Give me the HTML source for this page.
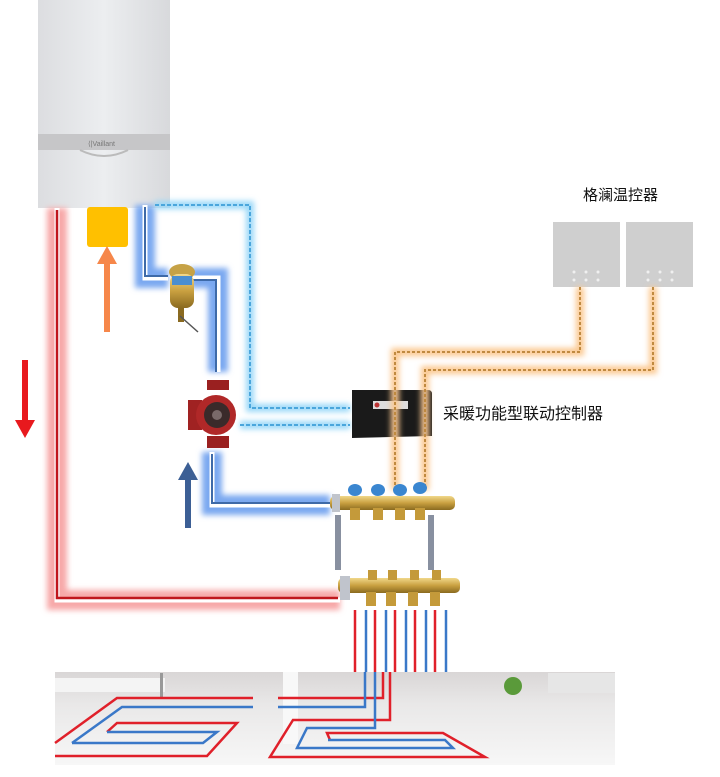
<!DOCTYPE html>
<html><head><meta charset="utf-8"><style>
html,body{margin:0;padding:0;background:#fff;}
svg{display:block;}
text{font-family:"Liberation Sans","Noto Sans CJK SC",sans-serif;}
</style></head><body>
<svg width="720" height="777" viewBox="0 0 720 777" xmlns="http://www.w3.org/2000/svg">
<defs>
<filter id="blur" x="-20%" y="-20%" width="140%" height="140%"><feGaussianBlur stdDeviation="3"/></filter>
<linearGradient id="boil" x1="0" y1="0" x2="1" y2="0"><stop offset="0" stop-color="#dcdde0"/><stop offset="0.5" stop-color="#eceef0"/><stop offset="1" stop-color="#d8d9dc"/></linearGradient>
<linearGradient id="floor" x1="0" y1="0" x2="0" y2="1"><stop offset="0" stop-color="#d9d6d6"/><stop offset="0.35" stop-color="#e9e8e8"/><stop offset="1" stop-color="#f7f7f7"/></linearGradient>
<linearGradient id="brass" x1="0" y1="0" x2="0" y2="1"><stop offset="0" stop-color="#f1d88a"/><stop offset="0.5" stop-color="#c9a040"/><stop offset="1" stop-color="#8a6a20"/></linearGradient>
</defs>

<!-- boiler -->
<rect x="38" y="0" width="132" height="208" fill="url(#boil)"/>
<rect x="38" y="134" width="132" height="16" fill="#c6c6c8"/>
<path d="M80 150 Q104 162 128 150" fill="none" stroke="#bbb" stroke-width="2"/>
<text x="88" y="146" font-size="7" fill="#777">⟨|Vaillant</text>

<!-- red pipe -->
<path d="M57 208 V600 H340" fill="none" stroke="#f7a8a8" stroke-width="20" filter="url(#blur)"/>
<path d="M57 208 V600 H340" fill="none" stroke="#fff" stroke-width="5"/>
<path d="M57 210 V598 H338" fill="none" stroke="#c0161c" stroke-width="2.5"/>

<!-- red arrow -->
<rect x="22" y="360" width="6" height="62" fill="#e8191e"/>
<polygon points="15,420 35,420 25,438" fill="#e8191e"/>

<!-- yellow box & orange arrow -->
<rect x="87" y="207" width="41" height="40" rx="3" fill="#ffc000"/>
<rect x="104" y="262" width="6" height="70" fill="#f6874a"/>
<polygon points="97,264 117,264 107,246" fill="#f6874a"/>

<!-- blue pipes -->
<g fill="none">
<path d="M145 205 V278 H168 M190 278 H218 V372 M212 452 V505 H330" stroke="#7aa8f0" stroke-width="20" filter="url(#blur)"/>
<path d="M145 205 V278 H168 M190 278 H218 V372 M212 452 V505 H330" stroke="#fff" stroke-width="5"/>
<path d="M145 207 V276 H168 M190 280 H216 V372 M212 454 V503 H330" stroke="#3e6aa8" stroke-width="2"/>
</g>
<!-- blue arrow -->
<rect x="185" y="478" width="6" height="50" fill="#3c5f95"/>
<polygon points="178,480 198,480 188,462" fill="#3c5f95"/>

<!-- light blue dashed signal lines -->
<g fill="none">
<path d="M155 205 H250 V408 H350 M240 425 H350" stroke="#9ad8f8" stroke-width="8" filter="url(#blur)"/>
<path d="M155 205 H250 V408 H350 M240 425 H350" stroke="#4aa6dc" stroke-width="2" stroke-dasharray="4 2"/>
</g>

<!-- filter valve -->
<ellipse cx="182" cy="272" rx="13" ry="8" fill="#c6a246"/>
<rect x="170" y="274" width="24" height="34" rx="8" fill="url(#brass)"/>
<rect x="172" y="276" width="20" height="9" fill="#4a8ed0"/>
<rect x="178" y="308" width="6" height="14" fill="#8a6a20"/>
<path d="M180 316 L198 332" stroke="#555" stroke-width="1.5"/>

<!-- pump -->
<rect x="207" y="380" width="22" height="10" fill="#9a2020"/>
<rect x="188" y="400" width="14" height="30" fill="#a02222"/>
<circle cx="216" cy="415" r="20" fill="#b02828"/>
<circle cx="217" cy="415" r="13" fill="#3a2a2a"/>
<circle cx="217" cy="415" r="5" fill="#7a6a6a"/>
<rect x="207" y="436" width="22" height="12" fill="#9a2020"/>

<!-- controller -->
<path d="M352 390 H428 Q432 390 432 394 V436 L352 438 Z" fill="#1a1a1a"/>
<rect x="373" y="401" width="35" height="8" fill="#ddd"/>
<circle cx="377" cy="405" r="2.5" fill="#b33"/>
<text x="443" y="419" font-size="16" fill="#111">采暖功能型联动控制器</text>

<!-- thermostats -->
<text x="583" y="200" font-size="15" fill="#111">格澜温控器</text>
<rect x="553" y="222" width="67" height="65" fill="#cfcfcf"/>
<rect x="626" y="222" width="67" height="65" fill="#cfcfcf"/>
<g fill="#f0f0f0">
<circle cx="574" cy="272" r="1.5"/><circle cx="586" cy="272" r="1.5"/><circle cx="598" cy="272" r="1.5"/>
<circle cx="574" cy="280" r="1.5"/><circle cx="586" cy="280" r="1.5"/><circle cx="598" cy="280" r="1.5"/>
<circle cx="648" cy="272" r="1.5"/><circle cx="660" cy="272" r="1.5"/><circle cx="672" cy="272" r="1.5"/>
<circle cx="648" cy="280" r="1.5"/><circle cx="660" cy="280" r="1.5"/><circle cx="672" cy="280" r="1.5"/>
</g>

<!-- orange wires -->
<g fill="none">
<path d="M580 287 V352 H395 V490 M653 287 V370 H425 V490" stroke="#fbc890" stroke-width="8" filter="url(#blur)"/>
<path d="M580 287 V352 H395 V490 M653 287 V370 H425 V490" stroke="#c08a40" stroke-width="2" stroke-dasharray="3 2"/>
</g>

<!-- manifolds -->
<rect x="335" y="515" width="6" height="55" fill="#8890a0"/>
<rect x="428" y="515" width="6" height="55" fill="#8890a0"/>
<rect x="330" y="496" width="125" height="14" rx="5" fill="url(#brass)"/>
<rect x="332" y="494" width="8" height="18" fill="#c0c4cc"/>
<g fill="#c49a3a">
<rect x="350" y="508" width="10" height="12"/><rect x="373" y="508" width="10" height="12"/><rect x="395" y="508" width="10" height="12"/><rect x="415" y="508" width="10" height="12"/>
</g>
<g fill="#3a86d0">
<ellipse cx="355" cy="490" rx="7" ry="6"/><ellipse cx="378" cy="490" rx="7" ry="6"/><ellipse cx="400" cy="490" rx="7" ry="6"/><ellipse cx="420" cy="488" rx="7" ry="6"/>
</g>
<rect x="338" y="578" width="122" height="15" rx="5" fill="url(#brass)"/>
<rect x="340" y="576" width="10" height="24" fill="#c0c4cc"/>
<g fill="#c49a3a">
<rect x="368" y="570" width="9" height="10"/><rect x="388" y="570" width="9" height="10"/><rect x="410" y="570" width="9" height="10"/><rect x="432" y="570" width="9" height="10"/>
<rect x="366" y="592" width="10" height="14"/><rect x="386" y="592" width="10" height="14"/><rect x="408" y="592" width="10" height="14"/><rect x="430" y="592" width="10" height="14"/>
</g>

<!-- floor image -->
<rect x="55" y="672" width="560" height="93" fill="url(#floor)"/>
<rect x="55" y="678" width="110" height="14" fill="#f4f4f4"/>
<rect x="283" y="672" width="15" height="72" fill="#f8f8f8"/>
<rect x="160" y="673" width="3" height="25" fill="#999"/>
<rect x="548" y="673" width="67" height="20" fill="#e6e6e6"/>
<circle cx="513" cy="686" r="9" fill="#5a9a3a"/>

<!-- vertical pipes to floor -->
<g stroke-width="2.5">
<line x1="355" y1="610" x2="355" y2="672" stroke="#e0202a"/>
<line x1="366" y1="610" x2="366" y2="672" stroke="#3a78c8"/>
<line x1="375" y1="610" x2="375" y2="672" stroke="#e0202a"/>
<line x1="386" y1="610" x2="386" y2="672" stroke="#3a78c8"/>
<line x1="395" y1="610" x2="395" y2="672" stroke="#e0202a"/>
<line x1="406" y1="610" x2="406" y2="672" stroke="#3a78c8"/>
<line x1="415" y1="610" x2="415" y2="672" stroke="#e0202a"/>
<line x1="426" y1="610" x2="426" y2="672" stroke="#3a78c8"/>
<line x1="435" y1="610" x2="435" y2="672" stroke="#e0202a"/>
<line x1="446" y1="610" x2="446" y2="672" stroke="#3a78c8"/>
</g>

<!-- floor loops -->
<g fill="none" stroke-width="2.5">
<path d="M55 743 L117 698 H253" stroke="#e0202a"/>
<path d="M72 743 L122 707 H253" stroke="#3a78c8"/>
<path d="M107 732 L117 723 H237 L207 756 H55" stroke="#e0202a"/>
<path d="M107 732 H217 L203 743 H72" stroke="#3a78c8"/>
<path d="M390 672 V720 H293 L270 757 H485 L443 733 H327 L330 740" stroke="#e0202a"/>
<path d="M383 672 V698 H278" stroke="#e0202a"/>
<path d="M375 672 V728 H307 L297 748 H453 L445 740 H328" stroke="#3a78c8"/>
<path d="M365 672 V707 H278" stroke="#3a78c8"/>
</g>
</svg>
</body></html>
